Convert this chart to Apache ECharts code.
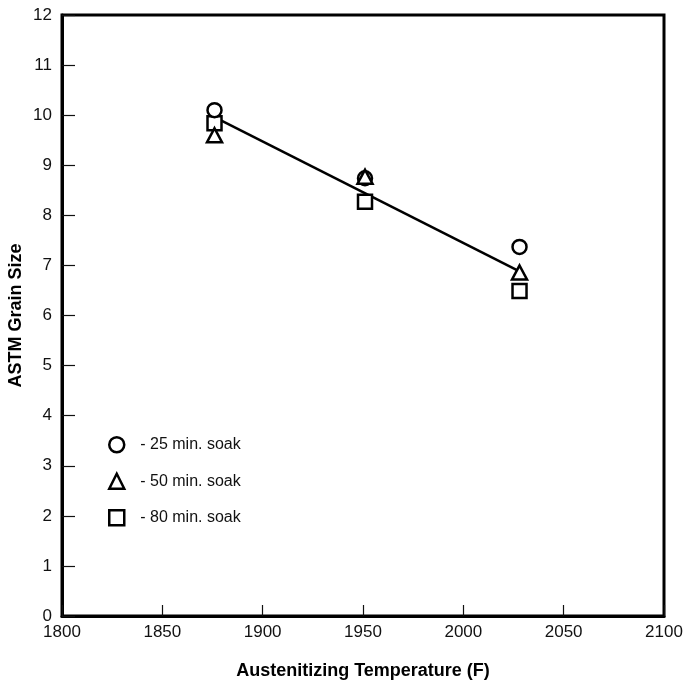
<!DOCTYPE html>
<html>
<head>
<meta charset="utf-8">
<script src="https://cdn.jsdelivr.net/npm/echarts@6/dist/echarts.min.js"></script>
<style>
  html, body { margin: 0; padding: 0; background: #fff; }
  #chart { width: 683px; height: 684px; }
</style>
</head>
<body>
<div id="chart"></div>
<script>
  // austenitizing temperature (F) of each test group
  var soak25 = [[1876, 10.1], [1951, 8.74], [2028, 7.37]];
  var soak50 = [[1876, 9.6], [1951, 8.77], [2028, 6.86]];
  var soak80 = [[1876, 9.84], [1951, 8.27], [2028, 6.49]];
  // fitted trend line
  var fitLine = [[1876, 9.96], [2028, 6.88]];
  var seriesNames = ['- 25 min. soak', '- 50 min. soak', '- 80 min. soak'];

  var font = 'Liberation Sans, Arial, sans-serif';
  var chart = echarts.init(document.getElementById('chart'));

  var markStyle = {
    color: '#fff',
    borderColor: '#000',
    borderWidth: 2.5,
    opacity: 1,
  };

  var option = {
    animation: false,
    grid: {
      left: 62,
      right: 19,
      top: 15,
      bottom: 68,
      outerBoundsMode: 'none',
      containLabel: false,
      show: true,
      borderColor: '#000',
      borderWidth: 3,
    },
    legend: {
      orient: 'vertical',
      left: 108,
      top: 436,
      padding: 0,
      itemWidth: 15,
      itemHeight: 15,
      itemGap: 19,
      itemStyle: markStyle,
      textStyle: {
        fontFamily: font,
        fontSize: 16,
        color: '#111',
        lineHeight: 16,
        padding: [0, 0, 0, 11],
      },
      data: [
        {name: seriesNames[0], icon: 'circle'},
        {name: seriesNames[1], icon: 'triangle'},
        {name: seriesNames[2], icon: 'rect'},
      ],
    },
    xAxis: {
      type: 'value',
      min: 1800,
      max: 2100,
      interval: 50,
      name: 'Austenitizing Temperature (F)',
      nameLocation: 'middle',
      nameGap: 46,
      nameMoveOverlap: false,
      nameTextStyle: {
        fontFamily: font,
        fontSize: 18,
        fontWeight: 'bold',
        color: '#000',
      },
      axisLine: {lineStyle: {color: '#000', width: 3}},
      axisTick: {inside: true, length: 11, lineStyle: {color: '#111', width: 1.2}},
      axisLabel: {
        fontFamily: font,
        fontSize: 17,
        color: '#111',
        margin: 8,
        formatter: function (v) { return String(v); },
      },
      splitLine: {show: false},
    },
    yAxis: {
      type: 'value',
      min: 0,
      max: 12,
      interval: 1,
      name: 'ASTM Grain Size',
      nameLocation: 'middle',
      nameGap: 37,
      nameMoveOverlap: false,
      nameTextStyle: {
        fontFamily: font,
        fontSize: 18,
        fontWeight: 'bold',
        color: '#000',
      },
      axisLine: {lineStyle: {color: '#000', width: 3}},
      axisTick: {inside: true, length: 13, lineStyle: {color: '#111', width: 1.2}},
      axisLabel: {fontFamily: font, fontSize: 17, color: '#111', margin: 10},
      splitLine: {show: false},
    },
    series: [
      {
        name: 'fit',
        type: 'line',
        data: fitLine,
        showSymbol: false,
        symbol: 'none',
        lineStyle: {color: '#000', width: 2.5},
        z: 1,
      },
      {
        name: seriesNames[0],
        type: 'scatter',
        symbol: 'circle',
        symbolSize: 14,
        itemStyle: markStyle,
        data: soak25,
        z: 3,
      },
      {
        name: seriesNames[1],
        type: 'scatter',
        symbol: 'triangle',
        symbolSize: [15, 14],
        itemStyle: markStyle,
        data: soak50,
        z: 3,
      },
      {
        name: seriesNames[2],
        type: 'scatter',
        symbol: 'rect',
        symbolSize: 14,
        itemStyle: markStyle,
        data: soak80,
        z: 2,
      },
    ],
  };
  chart.setOption(option);
</script>
</body>
</html>
